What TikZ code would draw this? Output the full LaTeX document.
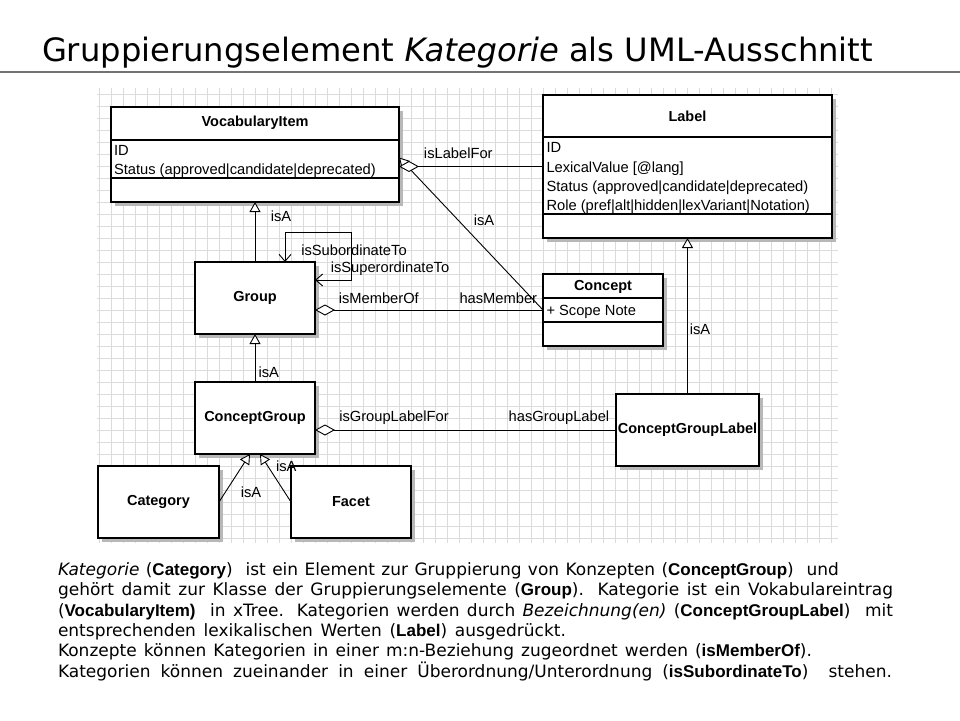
\documentclass[tikz,border=0pt]{standalone}
\usepackage{fontspec}
\setmainfont{DejaVu Sans}
\newfontfamily\umlfont{Liberation Sans}
\usetikzlibrary{arrows.meta,shadows}
\newcommand{\keyw}[1]{{\umlfont\bfseries #1}}

\begin{document}
\begin{tikzpicture}[x=1pt,y=-1pt,
  every node/.style={inner sep=0pt,outer sep=0pt},
  gridline/.style={black!14,line width=0.7pt},
  classbox/.style={draw,line width=1.5pt,fill=white,
    drop shadow={shadow xshift=3.5pt,shadow yshift=-3.5pt,fill=black!28,opacity=1}},
  divider/.style={line width=1.3pt},
  uml/.style={font=\umlfont\fontsize{14.7}{17}\selectfont},
  umlname/.style={font=\umlfont\bfseries\fontsize{14.5}{17}\selectfont},
  isa/.style={line width=0.9pt,-{Triangle[open,length=10pt,width=11pt,fill=white]}},
  aggr/.style={line width=0.9pt,-{Diamond[open,length=20pt,width=11pt,fill=white]}},
  selfref/.style={line width=0.9pt,
    {Straight Barb[length=7pt,width=12pt]}-{Straight Barb[length=7pt,width=12pt]}},
  body/.style={anchor=base west,font=\fontsize{17}{20}\selectfont}
]
\useasboundingbox (0,0) rectangle (960,720);

% title
\node[anchor=base west,font=\fontsize{32.2}{38}\selectfont] (title) at (42,61)
  {Gruppierungselement \textit{Kategorie} als UML-Ausschnitt};
\draw[black!55,line width=1.5pt] (0,72) -- (960,72);

% grid
\foreach \gx in {99,111,...,831}
  \draw[gridline] (\gx,88) -- (\gx,543);
\foreach \gy in {94,106,...,538}
  \draw[gridline] (97,\gy) -- (838,\gy);

% classes
\node[classbox,minimum width=288pt,minimum height=95pt] (voc) at (255,154.5) {};
\draw[divider] ([yshift=-33pt]voc.north west) -- ([yshift=-33pt]voc.north east);
\draw[divider] ([yshift=-71pt]voc.north west) -- ([yshift=-71pt]voc.north east);
\node[umlname] (vocname) at (255,123) {VocabularyItem};
\node[uml,anchor=base west] (vocid) at (114,155) {ID};
\node[uml,anchor=base west] (vocstat) at (114,174.5) {Status (approved|candidate|deprecated)};

\node[classbox,minimum width=289pt,minimum height=143pt] (lab) at (687.5,166.5) {};
\draw[divider] ([yshift=-42pt]lab.north west) -- ([yshift=-42pt]lab.north east);
\draw[divider] ([yshift=-119pt]lab.north west) -- ([yshift=-119pt]lab.north east);
\node[umlname] (labname) at (687.5,116.7) {Label};
\node[uml,anchor=base west] (labid) at (546.5,152.7) {ID};
\node[uml,anchor=base west] (labval) at (546.5,172.3) {LexicalValue [@lang]};
\node[uml,anchor=base west] (labstat) at (546.5,191.7) {Status (approved|candidate|deprecated)};
\node[uml,anchor=base west] (labrole) at (546.5,210.7) {Role (pref|alt|hidden|lexVariant|Notation)};

\node[classbox,minimum width=120pt,minimum height=72pt] (con) at (603,310) {};
\draw[divider] ([yshift=-24pt]con.north west) -- ([yshift=-24pt]con.north east);
\draw[divider] ([yshift=-48pt]con.north west) -- ([yshift=-48pt]con.north east);
\node[umlname] (conname) at (603,286.7) {Concept};
\node[uml,anchor=base west] (connote) at (546.5,315.3) {+ Scope Note};

\node[classbox,umlname,minimum width=120pt,minimum height=72pt] (grp) at (255,298) {Group};
\node[classbox,umlname,minimum width=120pt,minimum height=72pt] (cgr) at (255,418) {ConceptGroup};
\node[classbox,umlname,minimum width=121pt,minimum height=72pt] (cat) at (158.5,502) {Category};
\node[classbox,umlname,minimum width=120pt,minimum height=72pt] (fac) at (351,502) {Facet};
\node[classbox,umlname,minimum width=143pt,minimum height=72pt] (cgl) at (687.5,430) {ConceptGroupLabel};

% relations
\draw[isa] (grp) -- (voc);
\draw[isa] (cgr) -- (grp);
\draw[isa] (cgl) -- (lab);
\draw[isa] (con.west) -- ([yshift=-3pt]voc.east);
\draw[isa] (cat.east) -- ([xshift=-5pt]cgr.south);
\draw[isa] (fac.west) -- ([xshift=5pt]cgr.south);
\draw[aggr] (lab.west) -- (lab.west -| voc.east);
\draw[aggr] (con.west) -- (con.west -| grp.east);
\draw[aggr] (cgl.west) -- (cgl.west -| cgr.east);
\draw[selfref] ([xshift=30pt]grp.north) |- (351,232) |- ([yshift=18pt]grp.east);

% relation labels
\node[uml] (isa1) at (281,216.7) {isA};
\node[uml] (islabelfor) at (458.3,153.3) {isLabelFor};
\node[uml] (isa2) at (484,220) {isA};
\node[uml] (issub) at (354,250) {isSubordinateTo};
\node[uml] (issuper) at (390,268.3) {isSuperordinateTo};
\node[uml] (ismember) at (378.8,298.3) {isMemberOf};
\node[uml] (hasmember) at (498.3,298.3) {hasMember};
\node[uml] (isa3) at (700,329.3) {isA};
\node[uml] (isa4) at (268.8,372.3) {isA};
\node[uml] (isgrouplabel) at (394,417.7) {isGroupLabelFor};
\node[uml] (hasgrouplabel) at (559,417.7) {hasGroupLabel};
\node[uml] (isa5) at (251,492.7) {isA};
\node[uml] (isa6) at (286.3,466) {isA};

% description
\node[body] (line1) at (58,575) {\makebox[781pt][s]{\textit{Kategorie} (\keyw{Category})\ \ ist ein Element zur Gruppierung von Konzepten (\keyw{ConceptGroup})\ \ und}};
\node[body] (line2) at (58,595.4) {\makebox[835pt][s]{gehört damit zur Klasse der Gruppierungselemente (\keyw{Group}). Kategorie ist ein Vokabulareintrag}};
\node[body] (line3) at (58,616) {\makebox[835pt][s]{(\keyw{VocabularyItem)}\ \ in xTree. Kategorien werden durch \textit{Bezeichnung(en)} (\keyw{ConceptGroupLabel})\ \ mit}};
\node[body] (line4) at (58,636) {\makebox[508pt][s]{entsprechenden lexikalischen Werten (\keyw{Label}) ausgedrückt.}};
\node[body] (line5) at (58,656.6) {\makebox[754pt][s]{Konzepte können Kategorien in einer m:n-Beziehung zugeordnet werden (\keyw{isMemberOf}).}};
\node[body] (line6) at (58,677) {\makebox[834pt][s]{Kategorien können zueinander in einer Überordnung/Unterordnung (\keyw{isSubordinateTo})\ \ stehen.}};
\end{tikzpicture}
\end{document}
